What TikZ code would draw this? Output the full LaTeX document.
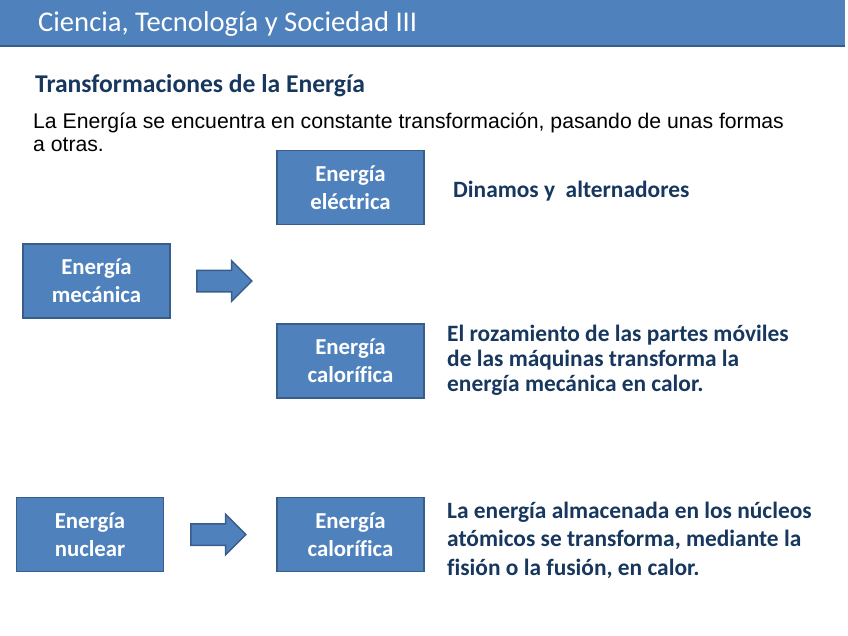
\documentclass[tikz,border=0pt]{standalone}
\usepackage{fontspec}
\setmainfont{Carlito}[Ligatures=CommonOff]
\newfontfamily\arialfont{Liberation Sans}
\usetikzlibrary{shapes.arrows}

\definecolor{boxblue}{HTML}{4F81BD}
\definecolor{boxline}{HTML}{385D8A}
\definecolor{navy}{HTML}{17375E}

\tikzset{
  energybox/.style={draw=boxline, line width=1.5pt, fill=boxblue, text=white,
    minimum width=147pt, minimum height=74pt, align=center,
    font=\bfseries\fontsize{22.8}{28}\selectfont},
  blockarrow/.style={single arrow, draw=boxline, line width=1.5pt, fill=boxblue,
    minimum height=55pt, inner xsep=0pt, inner ysep=10pt,
    single arrow head extend=9.5pt},
  note/.style={anchor=west, align=left, text=navy, inner sep=0pt,
    font=\bfseries\fontsize{23.4}{27}\selectfont}
}

\begin{document}
\begin{tikzpicture}[x=1pt, y=-1pt]
        \useasboundingbox (0,0) rectangle (848,636);
        % title bar
        \fill[boxblue] (0,0) rectangle (845,47);
        \draw[boxline, line width=1.5pt] (0,46) -- (845,46);
        \node[anchor=west, text=white, inner sep=0pt, font=\fontsize{28.6}{32}\selectfont] (title) at (38,24) {Ciencia, Tecnología y Sociedad III};
        \node[anchor=west, text=navy, inner sep=0pt, font=\bfseries\fontsize{25.6}{30}\selectfont] (subtitle) at (35,86) {Transformaciones de la Energía};
        \node[anchor=north west, align=left, inner sep=0pt, font=\arialfont\fontsize{21.2}{23}\selectfont] (intro) at (33,113) {La Energía se encuentra en constante transformación, pasando de unas formas\\a otras.};

        % boxes
        \node[energybox] (elec) at (350.5,187.5) {Energía\\eléctrica};
        \node[energybox] (mec) at (96.5,281) {Energía\\mecánica};
        \node[energybox] (cal1) at (350.5,361) {Energía\\calorífica};
        \node[energybox] (nuc) at (90,534.5) {Energía\\nuclear};
        \node[energybox] (cal2) at (350.5,534.5) {Energía\\calorífica};

        % arrows
        \node[blockarrow] (arr1) at (219,281) {};
        \node[blockarrow] (arr2) at (213,534.5) {};

        % notes
        \node[note] (dinamos) at (453,191) {Dinamos y\ \ alternadores};
        \node[note, font=\bfseries\fontsize{23.4}{25}\selectfont] (rozamiento) at (447,360) {El rozamiento de las partes móviles\\de las máquinas transforma la\\energía mecánica en calor.};
        \node[note, font=\bfseries\fontsize{23.4}{28.5}\selectfont] (nucleos) at (447,540) {La energía almacenada en los núcleos\\atómicos se transforma, mediante la\\fisión o la fusión, en calor.};
\end{tikzpicture}
\end{document}
